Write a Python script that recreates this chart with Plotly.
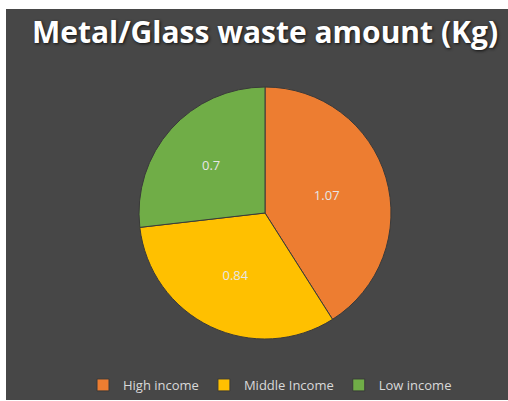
import plotly.graph_objects as go

# Metal/Glass waste per household income group (Kg)
groups = ["High income", "Middle Income", "Low income"]
amounts = [1.07, 0.84, 0.7]
slice_colors = ["#ED7D31", "#FFC000", "#70AD47"]

W, H = 508, 401
BG = "#474747"

# pie placement (pixels): centre and radius
cx, cy, r = 265, 213, 126

fig = go.Figure(
    go.Pie(
        labels=groups,
        values=amounts,
        sort=False,
        direction="clockwise",
        rotation=0,
        domain=dict(x=[(cx - r) / W, (cx + r) / W],
                    y=[1 - (cy + r) / H, 1 - (cy - r) / H]),
        marker=dict(colors=slice_colors, line=dict(color="#3a3a3a", width=1)),
        textinfo="value",
        textposition="inside",
        insidetextorientation="horizontal",
        textfont=dict(family="Open Sans", size=13, color="#e6e6e6"),
        hoverinfo="label+value",
    )
)

fig.update_layout(
    width=W,
    height=H,
    paper_bgcolor="white",
    plot_bgcolor=BG,
    margin=dict(l=0, r=0, t=0, b=0),
    title=dict(
        text="<b>Metal/Glass waste amount (Kg)</b>",
        x=265 / W,
        xanchor="center",
        y=1 - 32 / H,
        yanchor="middle",
        font=dict(family="Open Sans", size=30, color="white",
                  shadow="1px 1px 3px #111"),
    ),
    showlegend=True,
    legend=dict(
        orientation="h",
        x=270 / W,
        xanchor="center",
        y=1 - 385 / H,
        yanchor="middle",
        font=dict(family="Open Sans", size=13, color="#d9d9d9"),
        bgcolor="rgba(0,0,0,0)",
        itemwidth=30,
        itemclick=False,
    ),
    shapes=[
        # dark chart panel inside a thin white frame
        dict(type="rect", xref="paper", yref="paper", layer="below",
             x0=6 / W, x1=1, y0=1 / H, y1=1 - 9 / H,
             fillcolor=BG, line=dict(width=0)),
    ],
)

fig.write_html("out.html")
